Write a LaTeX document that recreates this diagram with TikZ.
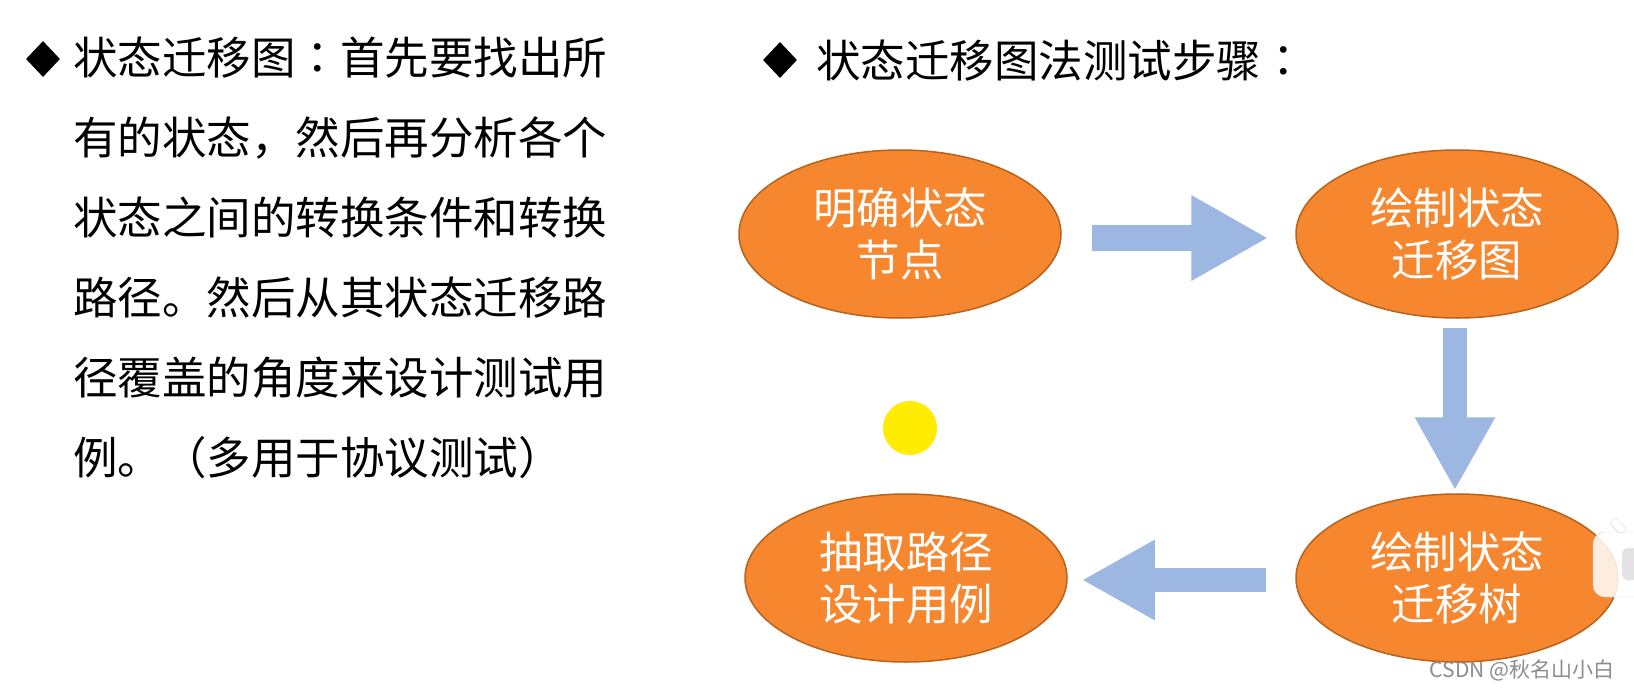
\documentclass[tikz,border=0pt]{standalone}
\usepackage{fontspec}
\setmainfont{Noto Sans CJK SC}
\newfontfamily\tcfont{Noto Sans CJK TC}
\usetikzlibrary{shapes.geometric,arrows.meta,calc}
\definecolor{nodeorange}{RGB}{246,135,47}
\definecolor{nodeborder}{RGB}{184,98,28}
\definecolor{arrowblue}{RGB}{155,183,226}
\definecolor{dotyellow}{RGB}{255,236,0}
\definecolor{markgray}{RGB}{140,140,140}
\begin{document}
\begin{tikzpicture}[x=1pt,y=-1pt,
  stateell/.style={ellipse, draw=nodeborder, line width=1.5pt, fill=nodeorange,
    minimum width=322pt, minimum height=168pt, inner sep=0pt, text=white,
    align=center, font=\fontsize{43.5}{52}\selectfont},
  bigarrowh/.style={draw=arrowblue, line width=26pt, -{Triangle[length=77pt,width=80pt]}},
  bigarrowv/.style={draw=arrowblue, line width=24pt, -{Triangle[length=73pt,width=75pt]}},
  bodytext/.style={anchor=base west, inner sep=0pt, font=\fontsize{44.5}{50}\selectfont},
  bulletmark/.style={diamond, fill=black, inner sep=0pt, minimum width=34pt, minimum height=36pt}
]
\useasboundingbox (0,0) rectangle (1634,688);
\fill[white] (0,0) rectangle (1634,688);

% left text block
\node[bulletmark] (b1) at (43,59) {};
\node[bodytext] (l1) at (73,74) {状态迁移图{\tcfont ：}首先要找出所};
\node[bodytext] (l2) at (73,154) {有的状态，然后再分析各个};
\node[bodytext] (l3) at (73,234) {状态之间的转换条件和转换};
\node[bodytext] (l4) at (73,314) {路径。然后从其状态迁移路};
\node[bodytext] (l5) at (73,394) {径覆盖的角度来设计测试用};
\node[bodytext] (l6) at (73,474) {例。（多用于协议测试）};

% right heading
\node[bulletmark] (b2) at (780,60) {};
\node[bodytext] (h) at (816,77) {状态迁移图法测试步骤{\tcfont ：}};

% states
\node[stateell] (E1) at (900,234) {明确状态\\节点};
\node[stateell] (E2) at (1457,234) {绘制状态\\迁移图};
\node[stateell] (E3) at (1457,578) {绘制状态\\迁移树};
\node[stateell] (E4) at (906,578) {抽取路径\\设计用例};

% block arrows
\draw[bigarrowh, shorten <=30pt, shorten >=27pt] ([yshift=-4pt]E1.east) -- ([yshift=-4pt]E2.west);
\draw[bigarrowv, shorten <=9pt, shorten >=3pt] ([xshift=-2pt]E2.south) -- ([xshift=-2pt]E3.north);
\draw[bigarrowv, shorten <=29pt, shorten >=14pt] ([yshift=-2pt]E3.west) -- ([yshift=-2pt]E4.east);

% yellow dot
\node[circle, fill=dotyellow, minimum size=54pt, inner sep=0pt] (dot) at (910,428) {};

% overlay icon at right edge
\draw[gray!30, fill=white, fill opacity=0.85, rounded corners=12pt] (1593,532) rectangle (1665,597);
\draw[gray!30, fill=white, rounded corners=3pt] (1609,523) -- (1616,517) -- (1627,530) -- (1620,534) -- cycle;
\fill[gray!22, rounded corners=6pt] (1622,548) rectangle (1650,580);

% watermark
\node[text=markgray, font=\fontsize{21}{21}\selectfont, inner sep=0pt] (wm) at (1522,670) {CSDN @秋名山小白};
\end{tikzpicture}
\end{document}
